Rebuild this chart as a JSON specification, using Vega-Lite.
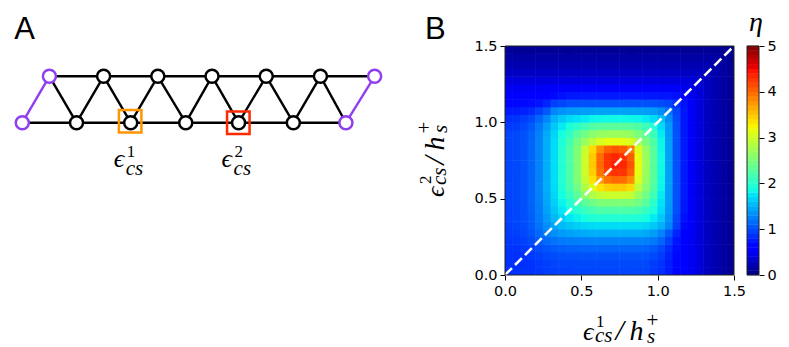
{"$schema":"https://vega.github.io/schema/vega-lite/v6.json","background":"white","padding":{"left":0,"top":9,"right":0,"bottom":0},"bounds":"flush","spacing":13,"config":{"view":{"stroke":null},"axis":{"grid":false,"domain":false,"tickColor":"#000","tickSize":5,"tickWidth":1,"labelColor":"#000","labelFont":"DejaVu Sans","labelFontSize":14.5,"labelPadding":3,"labelFlush":false,"labelOverlap":false}},
"datasets":{"cells":[
{"x":0.025,"y":0.025,"v":0.85},{"x":0.075,"y":0.025,"v":0.86},{"x":0.125,"y":0.025,"v":0.87},{"x":0.175,"y":0.025,"v":0.88},{"x":0.225,"y":0.025,"v":0.89},{"x":0.275,"y":0.025,"v":0.92},{"x":0.325,"y":0.025,"v":0.94},{"x":0.375,"y":0.025,"v":0.95},{"x":0.425,"y":0.025,"v":0.95},{"x":0.475,"y":0.025,"v":0.96},{"x":0.525,"y":0.025,"v":0.96},{"x":0.575,"y":0.025,"v":0.96},{"x":0.625,"y":0.025,"v":0.96},{"x":0.675,"y":0.025,"v":0.96},{"x":0.725,"y":0.025,"v":0.96},{"x":0.775,"y":0.025,"v":0.96},{"x":0.825,"y":0.025,"v":0.96},{"x":0.875,"y":0.025,"v":0.96},{"x":0.925,"y":0.025,"v":0.96},{"x":0.975,"y":0.025,"v":0.9},{"x":1.025,"y":0.025,"v":0.85},{"x":1.075,"y":0.025,"v":0.75},{"x":1.125,"y":0.025,"v":0.64},{"x":1.175,"y":0.025,"v":0.55},{"x":1.225,"y":0.025,"v":0.5},{"x":1.275,"y":0.025,"v":0.4},{"x":1.325,"y":0.025,"v":0.29},{"x":1.375,"y":0.025,"v":0.22},{"x":1.425,"y":0.025,"v":0.16},{"x":1.475,"y":0.025,"v":0.1},
{"x":0.025,"y":0.075,"v":0.86},{"x":0.075,"y":0.075,"v":0.85},{"x":0.125,"y":0.075,"v":0.86},{"x":0.175,"y":0.075,"v":0.87},{"x":0.225,"y":0.075,"v":0.91},{"x":0.275,"y":0.075,"v":0.94},{"x":0.325,"y":0.075,"v":0.96},{"x":0.375,"y":0.075,"v":0.97},{"x":0.425,"y":0.075,"v":0.97},{"x":0.475,"y":0.075,"v":0.98},{"x":0.525,"y":0.075,"v":0.98},{"x":0.575,"y":0.075,"v":0.98},{"x":0.625,"y":0.075,"v":0.98},{"x":0.675,"y":0.075,"v":0.98},{"x":0.725,"y":0.075,"v":0.98},{"x":0.775,"y":0.075,"v":0.98},{"x":0.825,"y":0.075,"v":0.98},{"x":0.875,"y":0.075,"v":0.98},{"x":0.925,"y":0.075,"v":0.98},{"x":0.975,"y":0.075,"v":0.92},{"x":1.025,"y":0.075,"v":0.87},{"x":1.075,"y":0.075,"v":0.76},{"x":1.125,"y":0.075,"v":0.65},{"x":1.175,"y":0.075,"v":0.55},{"x":1.225,"y":0.075,"v":0.5},{"x":1.275,"y":0.075,"v":0.4},{"x":1.325,"y":0.075,"v":0.29},{"x":1.375,"y":0.075,"v":0.22},{"x":1.425,"y":0.075,"v":0.16},{"x":1.475,"y":0.075,"v":0.1},
{"x":0.025,"y":0.125,"v":0.87},{"x":0.075,"y":0.125,"v":0.86},{"x":0.125,"y":0.125,"v":0.87},{"x":0.175,"y":0.125,"v":0.9},{"x":0.225,"y":0.125,"v":0.94},{"x":0.275,"y":0.125,"v":0.98},{"x":0.325,"y":0.125,"v":1},{"x":0.375,"y":0.125,"v":1.01},{"x":0.425,"y":0.125,"v":1.02},{"x":0.475,"y":0.125,"v":1.02},{"x":0.525,"y":0.125,"v":1.03},{"x":0.575,"y":0.125,"v":1.03},{"x":0.625,"y":0.125,"v":1.03},{"x":0.675,"y":0.125,"v":1.03},{"x":0.725,"y":0.125,"v":1.03},{"x":0.775,"y":0.125,"v":1.03},{"x":0.825,"y":0.125,"v":1.03},{"x":0.875,"y":0.125,"v":1.03},{"x":0.925,"y":0.125,"v":1.03},{"x":0.975,"y":0.125,"v":0.98},{"x":1.025,"y":0.125,"v":0.92},{"x":1.075,"y":0.125,"v":0.78},{"x":1.125,"y":0.125,"v":0.66},{"x":1.175,"y":0.125,"v":0.56},{"x":1.225,"y":0.125,"v":0.5},{"x":1.275,"y":0.125,"v":0.4},{"x":1.325,"y":0.125,"v":0.29},{"x":1.375,"y":0.125,"v":0.22},{"x":1.425,"y":0.125,"v":0.16},{"x":1.475,"y":0.125,"v":0.1},
{"x":0.025,"y":0.175,"v":0.88},{"x":0.075,"y":0.175,"v":0.87},{"x":0.125,"y":0.175,"v":0.9},{"x":0.175,"y":0.175,"v":0.94},{"x":0.225,"y":0.175,"v":1},{"x":0.275,"y":0.175,"v":1.04},{"x":0.325,"y":0.175,"v":1.07},{"x":0.375,"y":0.175,"v":1.09},{"x":0.425,"y":0.175,"v":1.1},{"x":0.475,"y":0.175,"v":1.11},{"x":0.525,"y":0.175,"v":1.12},{"x":0.575,"y":0.175,"v":1.12},{"x":0.625,"y":0.175,"v":1.12},{"x":0.675,"y":0.175,"v":1.12},{"x":0.725,"y":0.175,"v":1.12},{"x":0.775,"y":0.175,"v":1.12},{"x":0.825,"y":0.175,"v":1.12},{"x":0.875,"y":0.175,"v":1.12},{"x":0.925,"y":0.175,"v":1.11},{"x":0.975,"y":0.175,"v":1.06},{"x":1.025,"y":0.175,"v":0.98},{"x":1.075,"y":0.175,"v":0.83},{"x":1.125,"y":0.175,"v":0.68},{"x":1.175,"y":0.175,"v":0.56},{"x":1.225,"y":0.175,"v":0.5},{"x":1.275,"y":0.175,"v":0.4},{"x":1.325,"y":0.175,"v":0.29},{"x":1.375,"y":0.175,"v":0.22},{"x":1.425,"y":0.175,"v":0.16},{"x":1.475,"y":0.175,"v":0.1},
{"x":0.025,"y":0.225,"v":0.89},{"x":0.075,"y":0.225,"v":0.91},{"x":0.125,"y":0.225,"v":0.94},{"x":0.175,"y":0.225,"v":1},{"x":0.225,"y":0.225,"v":1.07},{"x":0.275,"y":0.225,"v":1.14},{"x":0.325,"y":0.225,"v":1.19},{"x":0.375,"y":0.225,"v":1.22},{"x":0.425,"y":0.225,"v":1.24},{"x":0.475,"y":0.225,"v":1.25},{"x":0.525,"y":0.225,"v":1.26},{"x":0.575,"y":0.225,"v":1.27},{"x":0.625,"y":0.225,"v":1.27},{"x":0.675,"y":0.225,"v":1.27},{"x":0.725,"y":0.225,"v":1.27},{"x":0.775,"y":0.225,"v":1.27},{"x":0.825,"y":0.225,"v":1.27},{"x":0.875,"y":0.225,"v":1.27},{"x":0.925,"y":0.225,"v":1.26},{"x":0.975,"y":0.225,"v":1.22},{"x":1.025,"y":0.225,"v":1.12},{"x":1.075,"y":0.225,"v":0.94},{"x":1.125,"y":0.225,"v":0.72},{"x":1.175,"y":0.225,"v":0.58},{"x":1.225,"y":0.225,"v":0.51},{"x":1.275,"y":0.225,"v":0.4},{"x":1.325,"y":0.225,"v":0.29},{"x":1.375,"y":0.225,"v":0.22},{"x":1.425,"y":0.225,"v":0.16},{"x":1.475,"y":0.225,"v":0.1},
{"x":0.025,"y":0.275,"v":0.92},{"x":0.075,"y":0.275,"v":0.94},{"x":0.125,"y":0.275,"v":0.98},{"x":0.175,"y":0.275,"v":1.04},{"x":0.225,"y":0.275,"v":1.14},{"x":0.275,"y":0.275,"v":1.25},{"x":0.325,"y":0.275,"v":1.33},{"x":0.375,"y":0.275,"v":1.38},{"x":0.425,"y":0.275,"v":1.42},{"x":0.475,"y":0.275,"v":1.44},{"x":0.525,"y":0.275,"v":1.46},{"x":0.575,"y":0.275,"v":1.48},{"x":0.625,"y":0.275,"v":1.48},{"x":0.675,"y":0.275,"v":1.48},{"x":0.725,"y":0.275,"v":1.48},{"x":0.775,"y":0.275,"v":1.48},{"x":0.825,"y":0.275,"v":1.48},{"x":0.875,"y":0.275,"v":1.48},{"x":0.925,"y":0.275,"v":1.46},{"x":0.975,"y":0.275,"v":1.4},{"x":1.025,"y":0.275,"v":1.28},{"x":1.075,"y":0.275,"v":1.05},{"x":1.125,"y":0.275,"v":0.8},{"x":1.175,"y":0.275,"v":0.62},{"x":1.225,"y":0.275,"v":0.52},{"x":1.275,"y":0.275,"v":0.4},{"x":1.325,"y":0.275,"v":0.29},{"x":1.375,"y":0.275,"v":0.22},{"x":1.425,"y":0.275,"v":0.16},{"x":1.475,"y":0.275,"v":0.1},
{"x":0.025,"y":0.325,"v":0.94},{"x":0.075,"y":0.325,"v":0.96},{"x":0.125,"y":0.325,"v":1},{"x":0.175,"y":0.325,"v":1.07},{"x":0.225,"y":0.325,"v":1.19},{"x":0.275,"y":0.325,"v":1.33},{"x":0.325,"y":0.325,"v":1.45},{"x":0.375,"y":0.325,"v":1.54},{"x":0.425,"y":0.325,"v":1.6},{"x":0.475,"y":0.325,"v":1.64},{"x":0.525,"y":0.325,"v":1.68},{"x":0.575,"y":0.325,"v":1.7},{"x":0.625,"y":0.325,"v":1.71},{"x":0.675,"y":0.325,"v":1.71},{"x":0.725,"y":0.325,"v":1.71},{"x":0.775,"y":0.325,"v":1.71},{"x":0.825,"y":0.325,"v":1.71},{"x":0.875,"y":0.325,"v":1.7},{"x":0.925,"y":0.325,"v":1.67},{"x":0.975,"y":0.325,"v":1.61},{"x":1.025,"y":0.325,"v":1.5},{"x":1.075,"y":0.325,"v":1.28},{"x":1.125,"y":0.325,"v":0.94},{"x":1.175,"y":0.325,"v":0.66},{"x":1.225,"y":0.325,"v":0.53},{"x":1.275,"y":0.325,"v":0.4},{"x":1.325,"y":0.325,"v":0.29},{"x":1.375,"y":0.325,"v":0.22},{"x":1.425,"y":0.325,"v":0.16},{"x":1.475,"y":0.325,"v":0.1},
{"x":0.025,"y":0.375,"v":0.95},{"x":0.075,"y":0.375,"v":0.97},{"x":0.125,"y":0.375,"v":1.01},{"x":0.175,"y":0.375,"v":1.09},{"x":0.225,"y":0.375,"v":1.22},{"x":0.275,"y":0.375,"v":1.38},{"x":0.325,"y":0.375,"v":1.54},{"x":0.375,"y":0.375,"v":1.66},{"x":0.425,"y":0.375,"v":1.76},{"x":0.475,"y":0.375,"v":1.82},{"x":0.525,"y":0.375,"v":1.88},{"x":0.575,"y":0.375,"v":1.94},{"x":0.625,"y":0.375,"v":1.96},{"x":0.675,"y":0.375,"v":1.96},{"x":0.725,"y":0.375,"v":1.96},{"x":0.775,"y":0.375,"v":1.96},{"x":0.825,"y":0.375,"v":1.96},{"x":0.875,"y":0.375,"v":1.94},{"x":0.925,"y":0.375,"v":1.88},{"x":0.975,"y":0.375,"v":1.78},{"x":1.025,"y":0.375,"v":1.61},{"x":1.075,"y":0.375,"v":1.34},{"x":1.125,"y":0.375,"v":0.96},{"x":1.175,"y":0.375,"v":0.7},{"x":1.225,"y":0.375,"v":0.53},{"x":1.275,"y":0.375,"v":0.4},{"x":1.325,"y":0.375,"v":0.29},{"x":1.375,"y":0.375,"v":0.22},{"x":1.425,"y":0.375,"v":0.16},{"x":1.475,"y":0.375,"v":0.1},
{"x":0.025,"y":0.425,"v":0.95},{"x":0.075,"y":0.425,"v":0.97},{"x":0.125,"y":0.425,"v":1.02},{"x":0.175,"y":0.425,"v":1.1},{"x":0.225,"y":0.425,"v":1.24},{"x":0.275,"y":0.425,"v":1.42},{"x":0.325,"y":0.425,"v":1.6},{"x":0.375,"y":0.425,"v":1.76},{"x":0.425,"y":0.425,"v":1.88},{"x":0.475,"y":0.425,"v":1.98},{"x":0.525,"y":0.425,"v":2.09},{"x":0.575,"y":0.425,"v":2.18},{"x":0.625,"y":0.425,"v":2.22},{"x":0.675,"y":0.425,"v":2.22},{"x":0.725,"y":0.425,"v":2.22},{"x":0.775,"y":0.425,"v":2.22},{"x":0.825,"y":0.425,"v":2.22},{"x":0.875,"y":0.425,"v":2.17},{"x":0.925,"y":0.425,"v":2.06},{"x":0.975,"y":0.425,"v":1.92},{"x":1.025,"y":0.425,"v":1.69},{"x":1.075,"y":0.425,"v":1.37},{"x":1.125,"y":0.425,"v":1.01},{"x":1.175,"y":0.425,"v":0.74},{"x":1.225,"y":0.425,"v":0.53},{"x":1.275,"y":0.425,"v":0.4},{"x":1.325,"y":0.425,"v":0.29},{"x":1.375,"y":0.425,"v":0.22},{"x":1.425,"y":0.425,"v":0.16},{"x":1.475,"y":0.425,"v":0.1},
{"x":0.025,"y":0.475,"v":0.96},{"x":0.075,"y":0.475,"v":0.98},{"x":0.125,"y":0.475,"v":1.02},{"x":0.175,"y":0.475,"v":1.11},{"x":0.225,"y":0.475,"v":1.25},{"x":0.275,"y":0.475,"v":1.44},{"x":0.325,"y":0.475,"v":1.64},{"x":0.375,"y":0.475,"v":1.82},{"x":0.425,"y":0.475,"v":1.98},{"x":0.475,"y":0.475,"v":2.15},{"x":0.525,"y":0.475,"v":2.3},{"x":0.575,"y":0.475,"v":2.43},{"x":0.625,"y":0.475,"v":2.52},{"x":0.675,"y":0.475,"v":2.52},{"x":0.725,"y":0.475,"v":2.52},{"x":0.775,"y":0.475,"v":2.52},{"x":0.825,"y":0.475,"v":2.52},{"x":0.875,"y":0.475,"v":2.43},{"x":0.925,"y":0.475,"v":2.28},{"x":0.975,"y":0.475,"v":2.03},{"x":1.025,"y":0.475,"v":1.74},{"x":1.075,"y":0.475,"v":1.39},{"x":1.125,"y":0.475,"v":1.01},{"x":1.175,"y":0.475,"v":0.74},{"x":1.225,"y":0.475,"v":0.53},{"x":1.275,"y":0.475,"v":0.4},{"x":1.325,"y":0.475,"v":0.29},{"x":1.375,"y":0.475,"v":0.22},{"x":1.425,"y":0.475,"v":0.16},{"x":1.475,"y":0.475,"v":0.1},
{"x":0.025,"y":0.525,"v":0.96},{"x":0.075,"y":0.525,"v":0.98},{"x":0.125,"y":0.525,"v":1.03},{"x":0.175,"y":0.525,"v":1.12},{"x":0.225,"y":0.525,"v":1.26},{"x":0.275,"y":0.525,"v":1.46},{"x":0.325,"y":0.525,"v":1.68},{"x":0.375,"y":0.525,"v":1.88},{"x":0.425,"y":0.525,"v":2.09},{"x":0.475,"y":0.525,"v":2.3},{"x":0.525,"y":0.525,"v":2.6},{"x":0.575,"y":0.525,"v":2.79},{"x":0.625,"y":0.525,"v":2.92},{"x":0.675,"y":0.525,"v":2.98},{"x":0.725,"y":0.525,"v":2.99},{"x":0.775,"y":0.525,"v":2.99},{"x":0.825,"y":0.525,"v":2.94},{"x":0.875,"y":0.525,"v":2.67},{"x":0.925,"y":0.525,"v":2.44},{"x":0.975,"y":0.525,"v":2.14},{"x":1.025,"y":0.525,"v":1.78},{"x":1.075,"y":0.525,"v":1.4},{"x":1.125,"y":0.525,"v":1.02},{"x":1.175,"y":0.525,"v":0.75},{"x":1.225,"y":0.525,"v":0.53},{"x":1.275,"y":0.525,"v":0.4},{"x":1.325,"y":0.525,"v":0.29},{"x":1.375,"y":0.525,"v":0.22},{"x":1.425,"y":0.525,"v":0.16},{"x":1.475,"y":0.525,"v":0.1},
{"x":0.025,"y":0.575,"v":0.96},{"x":0.075,"y":0.575,"v":0.98},{"x":0.125,"y":0.575,"v":1.03},{"x":0.175,"y":0.575,"v":1.12},{"x":0.225,"y":0.575,"v":1.27},{"x":0.275,"y":0.575,"v":1.48},{"x":0.325,"y":0.575,"v":1.7},{"x":0.375,"y":0.575,"v":1.94},{"x":0.425,"y":0.575,"v":2.18},{"x":0.475,"y":0.575,"v":2.43},{"x":0.525,"y":0.575,"v":2.79},{"x":0.575,"y":0.575,"v":3.1},{"x":0.625,"y":0.575,"v":3.36},{"x":0.675,"y":0.575,"v":3.46},{"x":0.725,"y":0.575,"v":3.49},{"x":0.775,"y":0.575,"v":3.48},{"x":0.825,"y":0.575,"v":3.4},{"x":0.875,"y":0.575,"v":2.9},{"x":0.925,"y":0.575,"v":2.58},{"x":0.975,"y":0.575,"v":2.25},{"x":1.025,"y":0.575,"v":1.83},{"x":1.075,"y":0.575,"v":1.41},{"x":1.125,"y":0.575,"v":1.02},{"x":1.175,"y":0.575,"v":0.75},{"x":1.225,"y":0.575,"v":0.53},{"x":1.275,"y":0.575,"v":0.4},{"x":1.325,"y":0.575,"v":0.29},{"x":1.375,"y":0.575,"v":0.22},{"x":1.425,"y":0.575,"v":0.16},{"x":1.475,"y":0.575,"v":0.1},
{"x":0.025,"y":0.625,"v":0.96},{"x":0.075,"y":0.625,"v":0.98},{"x":0.125,"y":0.625,"v":1.03},{"x":0.175,"y":0.625,"v":1.12},{"x":0.225,"y":0.625,"v":1.27},{"x":0.275,"y":0.625,"v":1.48},{"x":0.325,"y":0.625,"v":1.71},{"x":0.375,"y":0.625,"v":1.96},{"x":0.425,"y":0.625,"v":2.22},{"x":0.475,"y":0.625,"v":2.52},{"x":0.525,"y":0.625,"v":2.92},{"x":0.575,"y":0.625,"v":3.36},{"x":0.625,"y":0.625,"v":3.74},{"x":0.675,"y":0.625,"v":3.94},{"x":0.725,"y":0.625,"v":4},{"x":0.775,"y":0.625,"v":3.98},{"x":0.825,"y":0.625,"v":3.8},{"x":0.875,"y":0.625,"v":3.07},{"x":0.925,"y":0.625,"v":2.66},{"x":0.975,"y":0.625,"v":2.29},{"x":1.025,"y":0.625,"v":1.84},{"x":1.075,"y":0.625,"v":1.42},{"x":1.125,"y":0.625,"v":1.02},{"x":1.175,"y":0.625,"v":0.75},{"x":1.225,"y":0.625,"v":0.53},{"x":1.275,"y":0.625,"v":0.4},{"x":1.325,"y":0.625,"v":0.29},{"x":1.375,"y":0.625,"v":0.22},{"x":1.425,"y":0.625,"v":0.16},{"x":1.475,"y":0.625,"v":0.1},
{"x":0.025,"y":0.675,"v":0.96},{"x":0.075,"y":0.675,"v":0.98},{"x":0.125,"y":0.675,"v":1.03},{"x":0.175,"y":0.675,"v":1.12},{"x":0.225,"y":0.675,"v":1.27},{"x":0.275,"y":0.675,"v":1.48},{"x":0.325,"y":0.675,"v":1.71},{"x":0.375,"y":0.675,"v":1.96},{"x":0.425,"y":0.675,"v":2.22},{"x":0.475,"y":0.675,"v":2.52},{"x":0.525,"y":0.675,"v":2.98},{"x":0.575,"y":0.675,"v":3.46},{"x":0.625,"y":0.675,"v":3.94},{"x":0.675,"y":0.675,"v":4.2},{"x":0.725,"y":0.675,"v":4.28},{"x":0.775,"y":0.675,"v":4.27},{"x":0.825,"y":0.675,"v":4.03},{"x":0.875,"y":0.675,"v":3.14},{"x":0.925,"y":0.675,"v":2.69},{"x":0.975,"y":0.675,"v":2.3},{"x":1.025,"y":0.675,"v":1.85},{"x":1.075,"y":0.675,"v":1.42},{"x":1.125,"y":0.675,"v":1.02},{"x":1.175,"y":0.675,"v":0.75},{"x":1.225,"y":0.675,"v":0.53},{"x":1.275,"y":0.675,"v":0.4},{"x":1.325,"y":0.675,"v":0.29},{"x":1.375,"y":0.675,"v":0.22},{"x":1.425,"y":0.675,"v":0.16},{"x":1.475,"y":0.675,"v":0.1},
{"x":0.025,"y":0.725,"v":0.96},{"x":0.075,"y":0.725,"v":0.98},{"x":0.125,"y":0.725,"v":1.03},{"x":0.175,"y":0.725,"v":1.12},{"x":0.225,"y":0.725,"v":1.27},{"x":0.275,"y":0.725,"v":1.48},{"x":0.325,"y":0.725,"v":1.71},{"x":0.375,"y":0.725,"v":1.96},{"x":0.425,"y":0.725,"v":2.22},{"x":0.475,"y":0.725,"v":2.52},{"x":0.525,"y":0.725,"v":2.99},{"x":0.575,"y":0.725,"v":3.49},{"x":0.625,"y":0.725,"v":4},{"x":0.675,"y":0.725,"v":4.28},{"x":0.725,"y":0.725,"v":4.4},{"x":0.775,"y":0.725,"v":4.35},{"x":0.825,"y":0.725,"v":4.1},{"x":0.875,"y":0.725,"v":3.15},{"x":0.925,"y":0.725,"v":2.7},{"x":0.975,"y":0.725,"v":2.3},{"x":1.025,"y":0.725,"v":1.85},{"x":1.075,"y":0.725,"v":1.42},{"x":1.125,"y":0.725,"v":1.02},{"x":1.175,"y":0.725,"v":0.75},{"x":1.225,"y":0.725,"v":0.53},{"x":1.275,"y":0.725,"v":0.4},{"x":1.325,"y":0.725,"v":0.29},{"x":1.375,"y":0.725,"v":0.22},{"x":1.425,"y":0.725,"v":0.16},{"x":1.475,"y":0.725,"v":0.1},
{"x":0.025,"y":0.775,"v":0.96},{"x":0.075,"y":0.775,"v":0.98},{"x":0.125,"y":0.775,"v":1.03},{"x":0.175,"y":0.775,"v":1.12},{"x":0.225,"y":0.775,"v":1.27},{"x":0.275,"y":0.775,"v":1.48},{"x":0.325,"y":0.775,"v":1.71},{"x":0.375,"y":0.775,"v":1.96},{"x":0.425,"y":0.775,"v":2.22},{"x":0.475,"y":0.775,"v":2.52},{"x":0.525,"y":0.775,"v":2.99},{"x":0.575,"y":0.775,"v":3.48},{"x":0.625,"y":0.775,"v":3.98},{"x":0.675,"y":0.775,"v":4.27},{"x":0.725,"y":0.775,"v":4.35},{"x":0.775,"y":0.775,"v":4.28},{"x":0.825,"y":0.775,"v":4.06},{"x":0.875,"y":0.775,"v":3.14},{"x":0.925,"y":0.775,"v":2.69},{"x":0.975,"y":0.775,"v":2.3},{"x":1.025,"y":0.775,"v":1.85},{"x":1.075,"y":0.775,"v":1.42},{"x":1.125,"y":0.775,"v":1.02},{"x":1.175,"y":0.775,"v":0.75},{"x":1.225,"y":0.775,"v":0.53},{"x":1.275,"y":0.775,"v":0.4},{"x":1.325,"y":0.775,"v":0.29},{"x":1.375,"y":0.775,"v":0.22},{"x":1.425,"y":0.775,"v":0.16},{"x":1.475,"y":0.775,"v":0.1},
{"x":0.025,"y":0.825,"v":0.96},{"x":0.075,"y":0.825,"v":0.98},{"x":0.125,"y":0.825,"v":1.03},{"x":0.175,"y":0.825,"v":1.12},{"x":0.225,"y":0.825,"v":1.27},{"x":0.275,"y":0.825,"v":1.48},{"x":0.325,"y":0.825,"v":1.71},{"x":0.375,"y":0.825,"v":1.96},{"x":0.425,"y":0.825,"v":2.22},{"x":0.475,"y":0.825,"v":2.52},{"x":0.525,"y":0.825,"v":2.94},{"x":0.575,"y":0.825,"v":3.4},{"x":0.625,"y":0.825,"v":3.8},{"x":0.675,"y":0.825,"v":4.03},{"x":0.725,"y":0.825,"v":4.1},{"x":0.775,"y":0.825,"v":4.06},{"x":0.825,"y":0.825,"v":3.87},{"x":0.875,"y":0.825,"v":3.08},{"x":0.925,"y":0.825,"v":2.66},{"x":0.975,"y":0.825,"v":2.29},{"x":1.025,"y":0.825,"v":1.84},{"x":1.075,"y":0.825,"v":1.42},{"x":1.125,"y":0.825,"v":1.02},{"x":1.175,"y":0.825,"v":0.75},{"x":1.225,"y":0.825,"v":0.53},{"x":1.275,"y":0.825,"v":0.4},{"x":1.325,"y":0.825,"v":0.29},{"x":1.375,"y":0.825,"v":0.22},{"x":1.425,"y":0.825,"v":0.16},{"x":1.475,"y":0.825,"v":0.1},
{"x":0.025,"y":0.875,"v":0.96},{"x":0.075,"y":0.875,"v":0.98},{"x":0.125,"y":0.875,"v":1.03},{"x":0.175,"y":0.875,"v":1.12},{"x":0.225,"y":0.875,"v":1.27},{"x":0.275,"y":0.875,"v":1.48},{"x":0.325,"y":0.875,"v":1.7},{"x":0.375,"y":0.875,"v":1.94},{"x":0.425,"y":0.875,"v":2.17},{"x":0.475,"y":0.875,"v":2.43},{"x":0.525,"y":0.875,"v":2.67},{"x":0.575,"y":0.875,"v":2.9},{"x":0.625,"y":0.875,"v":3.07},{"x":0.675,"y":0.875,"v":3.14},{"x":0.725,"y":0.875,"v":3.15},{"x":0.775,"y":0.875,"v":3.14},{"x":0.825,"y":0.875,"v":3.08},{"x":0.875,"y":0.875,"v":2.74},{"x":0.925,"y":0.875,"v":2.48},{"x":0.975,"y":0.875,"v":2.23},{"x":1.025,"y":0.875,"v":1.83},{"x":1.075,"y":0.875,"v":1.41},{"x":1.125,"y":0.875,"v":1.02},{"x":1.175,"y":0.875,"v":0.75},{"x":1.225,"y":0.875,"v":0.53},{"x":1.275,"y":0.875,"v":0.4},{"x":1.325,"y":0.875,"v":0.29},{"x":1.375,"y":0.875,"v":0.22},{"x":1.425,"y":0.875,"v":0.16},{"x":1.475,"y":0.875,"v":0.1},
{"x":0.025,"y":0.925,"v":0.96},{"x":0.075,"y":0.925,"v":0.98},{"x":0.125,"y":0.925,"v":1.03},{"x":0.175,"y":0.925,"v":1.11},{"x":0.225,"y":0.925,"v":1.26},{"x":0.275,"y":0.925,"v":1.46},{"x":0.325,"y":0.925,"v":1.67},{"x":0.375,"y":0.925,"v":1.88},{"x":0.425,"y":0.925,"v":2.06},{"x":0.475,"y":0.925,"v":2.28},{"x":0.525,"y":0.925,"v":2.44},{"x":0.575,"y":0.925,"v":2.58},{"x":0.625,"y":0.925,"v":2.66},{"x":0.675,"y":0.925,"v":2.69},{"x":0.725,"y":0.925,"v":2.7},{"x":0.775,"y":0.925,"v":2.69},{"x":0.825,"y":0.925,"v":2.66},{"x":0.875,"y":0.925,"v":2.48},{"x":0.925,"y":0.925,"v":2.31},{"x":0.975,"y":0.925,"v":2.11},{"x":1.025,"y":0.925,"v":1.78},{"x":1.075,"y":0.925,"v":1.4},{"x":1.125,"y":0.925,"v":1.02},{"x":1.175,"y":0.925,"v":0.74},{"x":1.225,"y":0.925,"v":0.53},{"x":1.275,"y":0.925,"v":0.4},{"x":1.325,"y":0.925,"v":0.29},{"x":1.375,"y":0.925,"v":0.22},{"x":1.425,"y":0.925,"v":0.16},{"x":1.475,"y":0.925,"v":0.1},
{"x":0.025,"y":0.975,"v":0.9},{"x":0.075,"y":0.975,"v":0.92},{"x":0.125,"y":0.975,"v":0.98},{"x":0.175,"y":0.975,"v":1.06},{"x":0.225,"y":0.975,"v":1.22},{"x":0.275,"y":0.975,"v":1.4},{"x":0.325,"y":0.975,"v":1.61},{"x":0.375,"y":0.975,"v":1.78},{"x":0.425,"y":0.975,"v":1.92},{"x":0.475,"y":0.975,"v":2.03},{"x":0.525,"y":0.975,"v":2.14},{"x":0.575,"y":0.975,"v":2.25},{"x":0.625,"y":0.975,"v":2.29},{"x":0.675,"y":0.975,"v":2.3},{"x":0.725,"y":0.975,"v":2.3},{"x":0.775,"y":0.975,"v":2.3},{"x":0.825,"y":0.975,"v":2.29},{"x":0.875,"y":0.975,"v":2.23},{"x":0.925,"y":0.975,"v":2.11},{"x":0.975,"y":0.975,"v":1.95},{"x":1.025,"y":0.975,"v":1.7},{"x":1.075,"y":0.975,"v":1.38},{"x":1.125,"y":0.975,"v":1.01},{"x":1.175,"y":0.975,"v":0.74},{"x":1.225,"y":0.975,"v":0.53},{"x":1.275,"y":0.975,"v":0.4},{"x":1.325,"y":0.975,"v":0.29},{"x":1.375,"y":0.975,"v":0.22},{"x":1.425,"y":0.975,"v":0.16},{"x":1.475,"y":0.975,"v":0.1},
{"x":0.025,"y":1.025,"v":0.85},{"x":0.075,"y":1.025,"v":0.87},{"x":0.125,"y":1.025,"v":0.92},{"x":0.175,"y":1.025,"v":0.98},{"x":0.225,"y":1.025,"v":1.12},{"x":0.275,"y":1.025,"v":1.28},{"x":0.325,"y":1.025,"v":1.5},{"x":0.375,"y":1.025,"v":1.61},{"x":0.425,"y":1.025,"v":1.69},{"x":0.475,"y":1.025,"v":1.74},{"x":0.525,"y":1.025,"v":1.78},{"x":0.575,"y":1.025,"v":1.83},{"x":0.625,"y":1.025,"v":1.84},{"x":0.675,"y":1.025,"v":1.85},{"x":0.725,"y":1.025,"v":1.85},{"x":0.775,"y":1.025,"v":1.85},{"x":0.825,"y":1.025,"v":1.84},{"x":0.875,"y":1.025,"v":1.83},{"x":0.925,"y":1.025,"v":1.78},{"x":0.975,"y":1.025,"v":1.7},{"x":1.025,"y":1.025,"v":1.56},{"x":1.075,"y":1.025,"v":1.32},{"x":1.125,"y":1.025,"v":1},{"x":1.175,"y":1.025,"v":0.73},{"x":1.225,"y":1.025,"v":0.53},{"x":1.275,"y":1.025,"v":0.4},{"x":1.325,"y":1.025,"v":0.29},{"x":1.375,"y":1.025,"v":0.22},{"x":1.425,"y":1.025,"v":0.16},{"x":1.475,"y":1.025,"v":0.1},
{"x":0.025,"y":1.075,"v":0.75},{"x":0.075,"y":1.075,"v":0.76},{"x":0.125,"y":1.075,"v":0.78},{"x":0.175,"y":1.075,"v":0.83},{"x":0.225,"y":1.075,"v":0.94},{"x":0.275,"y":1.075,"v":1.05},{"x":0.325,"y":1.075,"v":1.28},{"x":0.375,"y":1.075,"v":1.34},{"x":0.425,"y":1.075,"v":1.37},{"x":0.475,"y":1.075,"v":1.39},{"x":0.525,"y":1.075,"v":1.4},{"x":0.575,"y":1.075,"v":1.41},{"x":0.625,"y":1.075,"v":1.42},{"x":0.675,"y":1.075,"v":1.42},{"x":0.725,"y":1.075,"v":1.42},{"x":0.775,"y":1.075,"v":1.42},{"x":0.825,"y":1.075,"v":1.42},{"x":0.875,"y":1.075,"v":1.41},{"x":0.925,"y":1.075,"v":1.4},{"x":0.975,"y":1.075,"v":1.38},{"x":1.025,"y":1.075,"v":1.32},{"x":1.075,"y":1.075,"v":1.2},{"x":1.125,"y":1.075,"v":0.96},{"x":1.175,"y":1.075,"v":0.73},{"x":1.225,"y":1.075,"v":0.53},{"x":1.275,"y":1.075,"v":0.4},{"x":1.325,"y":1.075,"v":0.29},{"x":1.375,"y":1.075,"v":0.22},{"x":1.425,"y":1.075,"v":0.16},{"x":1.475,"y":1.075,"v":0.1},
{"x":0.025,"y":1.125,"v":0.64},{"x":0.075,"y":1.125,"v":0.65},{"x":0.125,"y":1.125,"v":0.66},{"x":0.175,"y":1.125,"v":0.68},{"x":0.225,"y":1.125,"v":0.72},{"x":0.275,"y":1.125,"v":0.8},{"x":0.325,"y":1.125,"v":0.94},{"x":0.375,"y":1.125,"v":0.96},{"x":0.425,"y":1.125,"v":1.01},{"x":0.475,"y":1.125,"v":1.01},{"x":0.525,"y":1.125,"v":1.02},{"x":0.575,"y":1.125,"v":1.02},{"x":0.625,"y":1.125,"v":1.02},{"x":0.675,"y":1.125,"v":1.02},{"x":0.725,"y":1.125,"v":1.02},{"x":0.775,"y":1.125,"v":1.02},{"x":0.825,"y":1.125,"v":1.02},{"x":0.875,"y":1.125,"v":1.02},{"x":0.925,"y":1.125,"v":1.02},{"x":0.975,"y":1.125,"v":1.01},{"x":1.025,"y":1.125,"v":1},{"x":1.075,"y":1.125,"v":0.96},{"x":1.125,"y":1.125,"v":0.86},{"x":1.175,"y":1.125,"v":0.7},{"x":1.225,"y":1.125,"v":0.52},{"x":1.275,"y":1.125,"v":0.4},{"x":1.325,"y":1.125,"v":0.29},{"x":1.375,"y":1.125,"v":0.22},{"x":1.425,"y":1.125,"v":0.16},{"x":1.475,"y":1.125,"v":0.1},
{"x":0.025,"y":1.175,"v":0.55},{"x":0.075,"y":1.175,"v":0.55},{"x":0.125,"y":1.175,"v":0.56},{"x":0.175,"y":1.175,"v":0.56},{"x":0.225,"y":1.175,"v":0.58},{"x":0.275,"y":1.175,"v":0.62},{"x":0.325,"y":1.175,"v":0.66},{"x":0.375,"y":1.175,"v":0.7},{"x":0.425,"y":1.175,"v":0.74},{"x":0.475,"y":1.175,"v":0.74},{"x":0.525,"y":1.175,"v":0.75},{"x":0.575,"y":1.175,"v":0.75},{"x":0.625,"y":1.175,"v":0.75},{"x":0.675,"y":1.175,"v":0.75},{"x":0.725,"y":1.175,"v":0.75},{"x":0.775,"y":1.175,"v":0.75},{"x":0.825,"y":1.175,"v":0.75},{"x":0.875,"y":1.175,"v":0.75},{"x":0.925,"y":1.175,"v":0.74},{"x":0.975,"y":1.175,"v":0.74},{"x":1.025,"y":1.175,"v":0.73},{"x":1.075,"y":1.175,"v":0.73},{"x":1.125,"y":1.175,"v":0.7},{"x":1.175,"y":1.175,"v":0.63},{"x":1.225,"y":1.175,"v":0.49},{"x":1.275,"y":1.175,"v":0.4},{"x":1.325,"y":1.175,"v":0.29},{"x":1.375,"y":1.175,"v":0.22},{"x":1.425,"y":1.175,"v":0.16},{"x":1.475,"y":1.175,"v":0.1},
{"x":0.025,"y":1.225,"v":0.5},{"x":0.075,"y":1.225,"v":0.5},{"x":0.125,"y":1.225,"v":0.5},{"x":0.175,"y":1.225,"v":0.5},{"x":0.225,"y":1.225,"v":0.51},{"x":0.275,"y":1.225,"v":0.52},{"x":0.325,"y":1.225,"v":0.53},{"x":0.375,"y":1.225,"v":0.53},{"x":0.425,"y":1.225,"v":0.53},{"x":0.475,"y":1.225,"v":0.53},{"x":0.525,"y":1.225,"v":0.53},{"x":0.575,"y":1.225,"v":0.53},{"x":0.625,"y":1.225,"v":0.53},{"x":0.675,"y":1.225,"v":0.53},{"x":0.725,"y":1.225,"v":0.53},{"x":0.775,"y":1.225,"v":0.53},{"x":0.825,"y":1.225,"v":0.53},{"x":0.875,"y":1.225,"v":0.53},{"x":0.925,"y":1.225,"v":0.53},{"x":0.975,"y":1.225,"v":0.53},{"x":1.025,"y":1.225,"v":0.53},{"x":1.075,"y":1.225,"v":0.53},{"x":1.125,"y":1.225,"v":0.52},{"x":1.175,"y":1.225,"v":0.49},{"x":1.225,"y":1.225,"v":0.45},{"x":1.275,"y":1.225,"v":0.39},{"x":1.325,"y":1.225,"v":0.29},{"x":1.375,"y":1.225,"v":0.22},{"x":1.425,"y":1.225,"v":0.16},{"x":1.475,"y":1.225,"v":0.1},
{"x":0.025,"y":1.275,"v":0.4},{"x":0.075,"y":1.275,"v":0.4},{"x":0.125,"y":1.275,"v":0.4},{"x":0.175,"y":1.275,"v":0.4},{"x":0.225,"y":1.275,"v":0.4},{"x":0.275,"y":1.275,"v":0.4},{"x":0.325,"y":1.275,"v":0.4},{"x":0.375,"y":1.275,"v":0.4},{"x":0.425,"y":1.275,"v":0.4},{"x":0.475,"y":1.275,"v":0.4},{"x":0.525,"y":1.275,"v":0.4},{"x":0.575,"y":1.275,"v":0.4},{"x":0.625,"y":1.275,"v":0.4},{"x":0.675,"y":1.275,"v":0.4},{"x":0.725,"y":1.275,"v":0.4},{"x":0.775,"y":1.275,"v":0.4},{"x":0.825,"y":1.275,"v":0.4},{"x":0.875,"y":1.275,"v":0.4},{"x":0.925,"y":1.275,"v":0.4},{"x":0.975,"y":1.275,"v":0.4},{"x":1.025,"y":1.275,"v":0.4},{"x":1.075,"y":1.275,"v":0.4},{"x":1.125,"y":1.275,"v":0.4},{"x":1.175,"y":1.275,"v":0.4},{"x":1.225,"y":1.275,"v":0.39},{"x":1.275,"y":1.275,"v":0.34},{"x":1.325,"y":1.275,"v":0.28},{"x":1.375,"y":1.275,"v":0.22},{"x":1.425,"y":1.275,"v":0.16},{"x":1.475,"y":1.275,"v":0.1},
{"x":0.025,"y":1.325,"v":0.29},{"x":0.075,"y":1.325,"v":0.29},{"x":0.125,"y":1.325,"v":0.29},{"x":0.175,"y":1.325,"v":0.29},{"x":0.225,"y":1.325,"v":0.29},{"x":0.275,"y":1.325,"v":0.29},{"x":0.325,"y":1.325,"v":0.29},{"x":0.375,"y":1.325,"v":0.29},{"x":0.425,"y":1.325,"v":0.29},{"x":0.475,"y":1.325,"v":0.29},{"x":0.525,"y":1.325,"v":0.29},{"x":0.575,"y":1.325,"v":0.29},{"x":0.625,"y":1.325,"v":0.29},{"x":0.675,"y":1.325,"v":0.29},{"x":0.725,"y":1.325,"v":0.29},{"x":0.775,"y":1.325,"v":0.29},{"x":0.825,"y":1.325,"v":0.29},{"x":0.875,"y":1.325,"v":0.29},{"x":0.925,"y":1.325,"v":0.29},{"x":0.975,"y":1.325,"v":0.29},{"x":1.025,"y":1.325,"v":0.29},{"x":1.075,"y":1.325,"v":0.29},{"x":1.125,"y":1.325,"v":0.29},{"x":1.175,"y":1.325,"v":0.29},{"x":1.225,"y":1.325,"v":0.29},{"x":1.275,"y":1.325,"v":0.28},{"x":1.325,"y":1.325,"v":0.25},{"x":1.375,"y":1.325,"v":0.21},{"x":1.425,"y":1.325,"v":0.16},{"x":1.475,"y":1.325,"v":0.1},
{"x":0.025,"y":1.375,"v":0.22},{"x":0.075,"y":1.375,"v":0.22},{"x":0.125,"y":1.375,"v":0.22},{"x":0.175,"y":1.375,"v":0.22},{"x":0.225,"y":1.375,"v":0.22},{"x":0.275,"y":1.375,"v":0.22},{"x":0.325,"y":1.375,"v":0.22},{"x":0.375,"y":1.375,"v":0.22},{"x":0.425,"y":1.375,"v":0.22},{"x":0.475,"y":1.375,"v":0.22},{"x":0.525,"y":1.375,"v":0.22},{"x":0.575,"y":1.375,"v":0.22},{"x":0.625,"y":1.375,"v":0.22},{"x":0.675,"y":1.375,"v":0.22},{"x":0.725,"y":1.375,"v":0.22},{"x":0.775,"y":1.375,"v":0.22},{"x":0.825,"y":1.375,"v":0.22},{"x":0.875,"y":1.375,"v":0.22},{"x":0.925,"y":1.375,"v":0.22},{"x":0.975,"y":1.375,"v":0.22},{"x":1.025,"y":1.375,"v":0.22},{"x":1.075,"y":1.375,"v":0.22},{"x":1.125,"y":1.375,"v":0.22},{"x":1.175,"y":1.375,"v":0.22},{"x":1.225,"y":1.375,"v":0.22},{"x":1.275,"y":1.375,"v":0.22},{"x":1.325,"y":1.375,"v":0.21},{"x":1.375,"y":1.375,"v":0.19},{"x":1.425,"y":1.375,"v":0.15},{"x":1.475,"y":1.375,"v":0.1},
{"x":0.025,"y":1.425,"v":0.16},{"x":0.075,"y":1.425,"v":0.16},{"x":0.125,"y":1.425,"v":0.16},{"x":0.175,"y":1.425,"v":0.16},{"x":0.225,"y":1.425,"v":0.16},{"x":0.275,"y":1.425,"v":0.16},{"x":0.325,"y":1.425,"v":0.16},{"x":0.375,"y":1.425,"v":0.16},{"x":0.425,"y":1.425,"v":0.16},{"x":0.475,"y":1.425,"v":0.16},{"x":0.525,"y":1.425,"v":0.16},{"x":0.575,"y":1.425,"v":0.16},{"x":0.625,"y":1.425,"v":0.16},{"x":0.675,"y":1.425,"v":0.16},{"x":0.725,"y":1.425,"v":0.16},{"x":0.775,"y":1.425,"v":0.16},{"x":0.825,"y":1.425,"v":0.16},{"x":0.875,"y":1.425,"v":0.16},{"x":0.925,"y":1.425,"v":0.16},{"x":0.975,"y":1.425,"v":0.16},{"x":1.025,"y":1.425,"v":0.16},{"x":1.075,"y":1.425,"v":0.16},{"x":1.125,"y":1.425,"v":0.16},{"x":1.175,"y":1.425,"v":0.16},{"x":1.225,"y":1.425,"v":0.16},{"x":1.275,"y":1.425,"v":0.16},{"x":1.325,"y":1.425,"v":0.16},{"x":1.375,"y":1.425,"v":0.15},{"x":1.425,"y":1.425,"v":0.13},{"x":1.475,"y":1.425,"v":0.09},
{"x":0.025,"y":1.475,"v":0.1},{"x":0.075,"y":1.475,"v":0.1},{"x":0.125,"y":1.475,"v":0.1},{"x":0.175,"y":1.475,"v":0.1},{"x":0.225,"y":1.475,"v":0.1},{"x":0.275,"y":1.475,"v":0.1},{"x":0.325,"y":1.475,"v":0.1},{"x":0.375,"y":1.475,"v":0.1},{"x":0.425,"y":1.475,"v":0.1},{"x":0.475,"y":1.475,"v":0.1},{"x":0.525,"y":1.475,"v":0.1},{"x":0.575,"y":1.475,"v":0.1},{"x":0.625,"y":1.475,"v":0.1},{"x":0.675,"y":1.475,"v":0.1},{"x":0.725,"y":1.475,"v":0.1},{"x":0.775,"y":1.475,"v":0.1},{"x":0.825,"y":1.475,"v":0.1},{"x":0.875,"y":1.475,"v":0.1},{"x":0.925,"y":1.475,"v":0.1},{"x":0.975,"y":1.475,"v":0.1},{"x":1.025,"y":1.475,"v":0.1},{"x":1.075,"y":1.475,"v":0.1},{"x":1.125,"y":1.475,"v":0.1},{"x":1.175,"y":1.475,"v":0.1},{"x":1.225,"y":1.475,"v":0.1},{"x":1.275,"y":1.475,"v":0.1},{"x":1.325,"y":1.475,"v":0.1},{"x":1.375,"y":1.475,"v":0.1},{"x":1.425,"y":1.475,"v":0.09},{"x":1.475,"y":1.475,"v":0.08}
],"bar":[{"v":0.05},{"v":0.15},{"v":0.25},{"v":0.35},{"v":0.45},{"v":0.55},{"v":0.65},{"v":0.75},{"v":0.85},{"v":0.95},{"v":1.05},{"v":1.15},{"v":1.25},{"v":1.35},{"v":1.45},{"v":1.55},{"v":1.65},{"v":1.75},{"v":1.85},{"v":1.95},{"v":2.05},{"v":2.15},{"v":2.25},{"v":2.35},{"v":2.45},{"v":2.55},{"v":2.65},{"v":2.75},{"v":2.85},{"v":2.95},{"v":3.05},{"v":3.15},{"v":3.25},{"v":3.35},{"v":3.45},{"v":3.55},{"v":3.65},{"v":3.75},{"v":3.85},{"v":3.95},{"v":4.05},{"v":4.15},{"v":4.25},{"v":4.35},{"v":4.45},{"v":4.55},{"v":4.65},{"v":4.75},{"v":4.85},{"v":4.95}]},
"hconcat":[
{"width":492,"height":229,"data":{"values":[{}]},
"layer":[
{"data":{"values":[{"a":1,"b":1,"c":13,"d":1,"k":"lattice"},{"a":0,"b":0,"c":11.94,"d":0,"k":"lattice"},{"a":1,"b":1,"c":2,"d":0,"k":"lattice"},{"a":2,"b":0,"c":3,"d":1,"k":"lattice"},{"a":3,"b":1,"c":4,"d":0,"k":"lattice"},{"a":4,"b":0,"c":5,"d":1,"k":"lattice"},{"a":5,"b":1,"c":6.03,"d":0,"k":"lattice"},{"a":6.03,"b":0,"c":7,"d":1,"k":"lattice"},{"a":7,"b":1,"c":7.98,"d":0,"k":"lattice"},{"a":7.98,"b":0,"c":9,"d":1,"k":"lattice"},{"a":9,"b":1,"c":10,"d":0,"k":"lattice"},{"a":10,"b":0,"c":11,"d":1,"k":"lattice"},{"a":11,"b":1,"c":11.94,"d":0,"k":"lattice"},{"a":0,"b":0,"c":1,"d":1,"k":"boundary"},{"a":11.94,"b":0,"c":13,"d":1,"k":"boundary"}]},
"mark":{"type":"rule","strokeWidth":2.4},
"encoding":{"x":{"field":"a","type":"quantitative","scale":{"domain":[-0.823,17.33],"nice":false,"zero":false},"axis":null},"y":{"field":"b","type":"quantitative","scale":{"domain":[-3.282,1.653],"nice":false,"zero":false},"axis":null},"x2":{"field":"c"},"y2":{"field":"d"},"stroke":{"field":"k","type":"nominal","scale":{"domain":["lattice","boundary","orange","red"],"range":["#000000","#8f3ff0","#ff9500","#ff2a00"]},"legend":null}}},
{"data":{"values":[{"u":0,"v":0,"k":"boundary"},{"u":2,"v":0,"k":"lattice"},{"u":4,"v":0,"k":"lattice"},{"u":6.03,"v":0,"k":"lattice"},{"u":7.98,"v":0,"k":"lattice"},{"u":10,"v":0,"k":"lattice"},{"u":11.94,"v":0,"k":"boundary"},{"u":1,"v":1,"k":"boundary"},{"u":3,"v":1,"k":"lattice"},{"u":5,"v":1,"k":"lattice"},{"u":7,"v":1,"k":"lattice"},{"u":9,"v":1,"k":"lattice"},{"u":11,"v":1,"k":"lattice"},{"u":13,"v":1,"k":"boundary"}]},
"mark":{"type":"point","shape":"circle","size":170,"filled":false,"fill":"white","fillOpacity":1,"strokeWidth":2.5,"opacity":1},
"encoding":{"x":{"field":"u","type":"quantitative"},"y":{"field":"v","type":"quantitative"},"stroke":{"field":"k","type":"nominal","legend":null}}},
{"data":{"values":[{"u":3.98,"v":0.03,"k":"orange"},{"u":7.97,"v":0,"k":"red"}]},
"mark":{"type":"point","shape":"square","size":506,"filled":false,"strokeWidth":2.5,"opacity":1},
"encoding":{"x":{"field":"u","type":"quantitative"},"y":{"field":"v","type":"quantitative"},"stroke":{"field":"k","type":"nominal","legend":null}}},
{"data":{"values":[{"u":4},{"u":7.98}]},"mark":{"type":"text","text":"ϵ","font":"Liberation Serif","fontStyle":"italic","fontSize":26,"dx":-17,"dy":44,"align":"left","baseline":"alphabetic"},"encoding":{"x":{"field":"u","type":"quantitative"},"y":{"datum":0}}},
{"data":{"values":[{"u":4,"t":"1"},{"u":7.98,"t":"2"}]},"mark":{"type":"text","font":"Liberation Serif","fontSize":17,"dx":-4,"dy":34,"align":"left","baseline":"alphabetic"},"encoding":{"x":{"field":"u","type":"quantitative"},"y":{"datum":0},"text":{"field":"t"}}},
{"data":{"values":[{"u":4},{"u":7.98}]},"mark":{"type":"text","text":"cs","font":"Liberation Serif","fontStyle":"italic","fontSize":21,"dx":-5,"dy":52,"align":"left","baseline":"alphabetic"},"encoding":{"x":{"field":"u","type":"quantitative"},"y":{"datum":0}}},
{"mark":{"type":"text","text":"A","font":"Liberation Sans","fontSize":31,"dx":-8,"dy":-37,"align":"left","baseline":"alphabetic"},"encoding":{"x":{"datum":0},"y":{"datum":1}}}
]},
{"width":229,"height":229,"data":{"values":[{}]},
"layer":[
{"data":{"name":"cells"},
"mark":{"type":"rect","width":8.2,"height":8.2,"clip":true},
"encoding":{"x":{"field":"x","type":"quantitative","scale":{"domain":[0,1.5],"nice":false,"zero":false},"axis":{"title":null,"values":[0,0.5,1,1.5],"format":".1f","labelPadding":4}},"y":{"field":"y","type":"quantitative","scale":{"domain":[0,1.5],"nice":false,"zero":false},"axis":{"title":null,"values":[0,0.5,1,1.5],"format":".1f"}},"color":{"field":"v","type":"quantitative","legend":null,"scale":{"interpolate":"rgb","domain":[0,0.55,0.625,1.75,1.875,3.2,3.25,3.3,4.45,4.55,5],"range":["#00007f","#0000ff","#0000ff","#00e5f7","#14ffe2","#eeff08","#f7f500","#ffed00","#ff1200","#e80000","#7f0000"]}}}},
{"data":{"values":[{"x":0,"y":0},{"x":1.5,"y":1.5}]},"mark":{"type":"line","color":"white","strokeWidth":2.6,"strokeDash":[9.8,4.3]},"encoding":{"x":{"field":"x","type":"quantitative"},"y":{"field":"y","type":"quantitative"}}},
{"mark":{"type":"rect","fill":null,"stroke":"#222","strokeWidth":1},"encoding":{"x":{"datum":0},"x2":{"datum":1.5},"y":{"datum":0},"y2":{"datum":1.5}}},
{"mark":{"type":"text","text":"B","font":"Liberation Sans","fontSize":31,"dx":-80,"dy":-7,"align":"left","baseline":"alphabetic"},"encoding":{"x":{"datum":0},"y":{"datum":1.5}}},
{"mark":{"type":"text","text":"ϵ","font":"Liberation Serif","fontStyle":"italic","fontSize":26,"dx":-36.5,"dy":65,"align":"left","baseline":"alphabetic"},"encoding":{"x":{"datum":0.75},"y":{"datum":0}}},
{"mark":{"type":"text","text":"1","font":"Liberation Serif","fontSize":17,"dx":-23.5,"dy":52,"align":"left","baseline":"alphabetic"},"encoding":{"x":{"datum":0.75},"y":{"datum":0}}},
{"mark":{"type":"text","text":"cs","font":"Liberation Serif","fontStyle":"italic","fontSize":21,"dx":-24.5,"dy":67,"align":"left","baseline":"alphabetic"},"encoding":{"x":{"datum":0.75},"y":{"datum":0}}},
{"mark":{"type":"text","text":"/","font":"Liberation Serif","fontStyle":"italic","fontSize":30,"dx":-4,"dy":65,"align":"left","baseline":"alphabetic"},"encoding":{"x":{"datum":0.75},"y":{"datum":0}}},
{"mark":{"type":"text","text":"h","font":"Liberation Serif","fontStyle":"italic","fontSize":28,"dx":10,"dy":65,"align":"left","baseline":"alphabetic"},"encoding":{"x":{"datum":0.75},"y":{"datum":0}}},
{"mark":{"type":"text","text":"+","font":"Liberation Serif","fontSize":21,"dx":27,"dy":52,"align":"left","baseline":"alphabetic"},"encoding":{"x":{"datum":0.75},"y":{"datum":0}}},
{"mark":{"type":"text","text":"s","font":"Liberation Serif","fontStyle":"italic","fontSize":21,"dx":27.5,"dy":68,"align":"left","baseline":"alphabetic"},"encoding":{"x":{"datum":0.75},"y":{"datum":0}}},
{"mark":{"type":"text","text":"ϵ","angle":270,"font":"Liberation Serif","fontStyle":"italic","fontSize":26,"dx":-36.5,"dy":-61,"align":"left","baseline":"alphabetic"},"encoding":{"x":{"datum":0},"y":{"datum":0.75}}},
{"mark":{"type":"text","text":"2","angle":270,"font":"Liberation Serif","fontSize":17,"dx":-23.5,"dy":-74,"align":"left","baseline":"alphabetic"},"encoding":{"x":{"datum":0},"y":{"datum":0.75}}},
{"mark":{"type":"text","text":"cs","angle":270,"font":"Liberation Serif","fontStyle":"italic","fontSize":21,"dx":-24.5,"dy":-59,"align":"left","baseline":"alphabetic"},"encoding":{"x":{"datum":0},"y":{"datum":0.75}}},
{"mark":{"type":"text","text":"/","angle":270,"font":"Liberation Serif","fontStyle":"italic","fontSize":30,"dx":-4,"dy":-61,"align":"left","baseline":"alphabetic"},"encoding":{"x":{"datum":0},"y":{"datum":0.75}}},
{"mark":{"type":"text","text":"h","angle":270,"font":"Liberation Serif","fontStyle":"italic","fontSize":28,"dx":10,"dy":-61,"align":"left","baseline":"alphabetic"},"encoding":{"x":{"datum":0},"y":{"datum":0.75}}},
{"mark":{"type":"text","text":"+","angle":270,"font":"Liberation Serif","fontSize":21,"dx":27,"dy":-74,"align":"left","baseline":"alphabetic"},"encoding":{"x":{"datum":0},"y":{"datum":0.75}}},
{"mark":{"type":"text","text":"s","angle":270,"font":"Liberation Serif","fontStyle":"italic","fontSize":21,"dx":27.5,"dy":-58,"align":"left","baseline":"alphabetic"},"encoding":{"x":{"datum":0},"y":{"datum":0.75}}}
]},
{"width":12,"height":229,"data":{"values":[{}]},
"layer":[
{"data":{"name":"bar"},
"mark":{"type":"rect","height":5},
"encoding":{"x":{"datum":0,"scale":{"domain":[0,1],"nice":false},"axis":null},"x2":{"datum":1},"y":{"field":"v","type":"quantitative","scale":{"domain":[0,5],"nice":false,"zero":false},"axis":{"title":null,"orient":"right","values":[0,1,2,3,4,5],"format":"d"}},"color":{"field":"v","type":"quantitative","legend":null,"scale":{"interpolate":"rgb","domain":[0,0.55,0.625,1.75,1.875,3.2,3.25,3.3,4.45,4.55,5],"range":["#00007f","#0000ff","#0000ff","#00e5f7","#14ffe2","#eeff08","#f7f500","#ffed00","#ff1200","#e80000","#7f0000"]}}}},
{"mark":{"type":"rect","fill":null,"stroke":"#222","strokeWidth":1},"encoding":{"x":{"datum":0},"x2":{"datum":1},"y":{"datum":0},"y2":{"datum":5}}},
{"mark":{"type":"text","text":"η","font":"Liberation Serif","fontStyle":"italic","fontSize":28,"dy":-15,"align":"center","baseline":"alphabetic"},"encoding":{"x":{"datum":0.75},"y":{"datum":5}}}
]}
]}
